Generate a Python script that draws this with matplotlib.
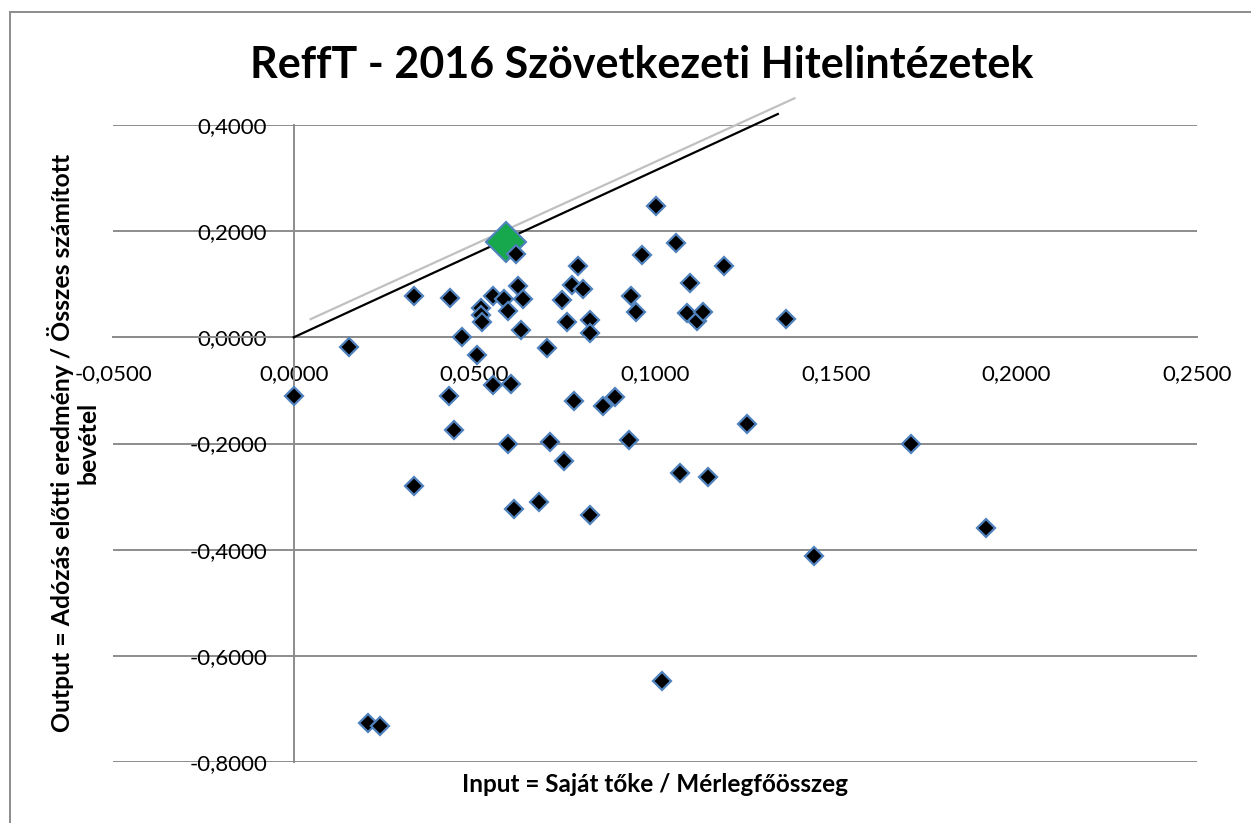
import matplotlib
matplotlib.use("Agg")
import matplotlib.pyplot as plt
from matplotlib.ticker import FuncFormatter, MultipleLocator
from matplotlib.lines import Line2D

plt.rcParams["font.family"] = ["Lato", "DejaVu Sans"]

# Saját tőke / Mérlegfőösszeg
inputs = [0.0000, 0.0152, 0.0205, 0.0239, 0.0332, 0.0334, 0.0432, 0.0430, 0.0443,
          0.0467, 0.0507, 0.0518, 0.0518, 0.0520, 0.0552, 0.0553, 0.0581, 0.0594,
          0.0593, 0.0601, 0.0609, 0.0615, 0.0621, 0.0628, 0.0635, 0.0679, 0.0701,
          0.0710, 0.0743, 0.0748, 0.0756, 0.0771, 0.0777, 0.0787, 0.0801, 0.0820,
          0.0820, 0.0820, 0.0857, 0.0890, 0.0928, 0.0934, 0.0947, 0.0963, 0.1003,
          0.1019, 0.1058, 0.1069, 0.1089, 0.1097, 0.1117, 0.1133, 0.1146, 0.1192,
          0.1254, 0.1363, 0.1441, 0.1709, 0.1917]
# Adózás előtti eredmény / Összes számított bevétel
outputs = [-0.110, -0.018, -0.727, -0.732, 0.078, -0.280, 0.074, -0.110, -0.175,
           0.001, -0.034, 0.056, 0.043, 0.029, 0.078, -0.090, 0.073, 0.050,
           -0.201, -0.088, -0.324, 0.157, 0.097, 0.014, 0.073, -0.310, -0.020,
           -0.198, 0.070, -0.233, 0.028, 0.099, -0.119, 0.135, 0.091, 0.032,
           0.009, -0.334, -0.130, -0.113, -0.194, 0.078, 0.048, 0.155, 0.248,
           -0.647, 0.178, -0.255, 0.045, 0.103, 0.031, 0.048, -0.264, 0.134,
           -0.163, 0.034, -0.412, -0.200, -0.360]

# a leghatékonyabb intézmény
best_x, best_y = 0.0589, 0.180

# határvonalak
frontier_x = [0.0, 0.1340]
frontier_y = [0.0, 0.4207]
frontier2_x = [0.0047, 0.1386]
frontier2_y = [0.0343, 0.4503]

fig = plt.figure(figsize=(12.51, 8.23), dpi=100)
ax = fig.add_axes([113 / 1251, 61 / 823, 1084 / 1251, 637 / 823])

ax.set_xlim(-0.05, 0.25)
ax.set_ylim(-0.8, 0.4)
ax.yaxis.set_major_locator(MultipleLocator(0.2))
ax.xaxis.set_major_locator(MultipleLocator(0.05))
fmt = FuncFormatter(lambda v, p: f"{v:.4f}".replace(".", ",").replace("-0,0000", "0,0000"))
ax.xaxis.set_major_formatter(fmt)
ax.yaxis.set_major_formatter(fmt)

grid_c = "#8c8c8c"
ax.grid(axis="y", color=grid_c, linewidth=1.4, zorder=0)
ax.grid(axis="x", visible=False)
for s in ("top", "right"):
    ax.spines[s].set_visible(False)
ax.spines["left"].set_position(("data", 0))
ax.spines["bottom"].set_position(("data", 0))
for s in ("left", "bottom"):
    ax.spines[s].set_color(grid_c)
    ax.spines[s].set_linewidth(1.4)
ax.tick_params(length=0, labelsize=16, labelcolor="black")
ax.tick_params(axis="x", pad=19)
ax.tick_params(axis="y", pad=19)

ax.plot(frontier2_x, frontier2_y, color="#c0c0c0", linewidth=1.6, clip_on=False, zorder=3)
ax.plot(frontier_x, frontier_y, color="black", linewidth=1.6, clip_on=False, zorder=3)

ax.plot(best_x, best_y, linestyle="none", marker="D", markersize=20,
        markerfacecolor="#17a84e", markeredgecolor="#4f81bd", markeredgewidth=1.5, zorder=4)
ax.plot(inputs, outputs, linestyle="none", marker="D", markersize=8.8,
        markerfacecolor="black", markeredgecolor="#4f81bd", markeredgewidth=1.6, zorder=5)

fig.text(0.513, 0.921, "ReffT - 2016 Szövetkezeti Hitelintézetek", ha="center", va="center",
         fontsize=31, fontweight="bold")
fig.text(655 / 1251, 1 - 785 / 823, "Input = Saját tőke / Mérlegfőösszeg", ha="center",
         va="center", fontsize=17.5, fontweight="bold")
fig.text(73 / 1251, 1 - 443 / 823, "Output = Adózás előtti eredmény / Összes számított\nbevétel",
         ha="center", va="center", rotation=90, fontsize=17.8, fontweight="bold",
         multialignment="center", linespacing=1.15)

# külső keret
fig.add_artist(Line2D([10 / 1251, 10 / 1251], [0, 1 - 12 / 823], color="#8c8c8c",
                      linewidth=1.4, transform=fig.transFigure))
fig.add_artist(Line2D([10 / 1251, 1], [1 - 12 / 823, 1 - 12 / 823], color="#8c8c8c",
                      linewidth=1.4, transform=fig.transFigure))

fig.savefig("out.png", dpi=100)
